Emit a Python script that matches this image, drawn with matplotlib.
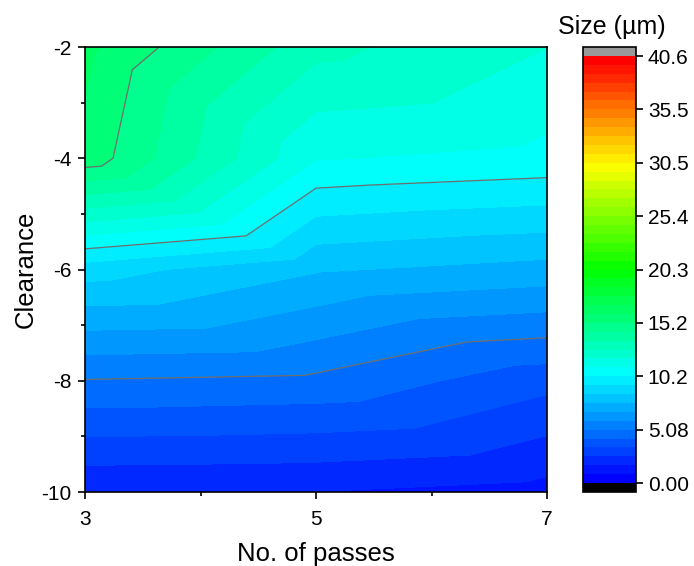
import numpy as np
import matplotlib
matplotlib.use("Agg")
import matplotlib.pyplot as plt
import matplotlib.tri as mtri
from matplotlib.colors import ListedColormap, LinearSegmentedColormap, BoundaryNorm

plt.rcParams['font.family'] = ['Liberation Sans', 'DejaVu Sans']
plt.rcParams['axes.unicode_minus'] = False

# grid of measured points
passes = [3, 5, 7]
clearance = [-10, -8, -6, -4, -2]
# particle size (um); rows follow clearance, columns follow passes
size = [
    [1.75, 1.68, 1.37],
    [5.03, 4.88, 3.67],
    [8.86, 7.70, 7.30],
    [15.80, 11.05, 10.75],
    [16.30, 12.95, 11.85],
]

zmin, zmax, nlev = 0.0, 40.6, 48
line_levels = [5.075, 10.15, 15.225]
cbar_ticks = [0.0, 5.075, 10.15, 15.225, 20.3, 25.375, 30.45, 35.525, 40.6]
cbar_labels = ["0.00", "5.08", "10.2", "15.2", "20.3", "25.4", "30.5", "35.5", "40.6"]

# triangulate the grid, diagonals from upper-left to lower-right
X, Y = np.meshgrid(passes, clearance)
Z = np.array(size)
nx, ny = len(passes), len(clearance)
triangles = []
for i in range(ny - 1):
    for j in range(nx - 1):
        bl = i * nx + j
        br = bl + 1
        tl = bl + nx
        tr = tl + 1
        triangles.append([bl, br, tl])
        triangles.append([br, tr, tl])
tri = mtri.Triangulation(X.ravel(), Y.ravel(), triangles)

# Origin-like rainbow, 48 discrete bands
rainbow = LinearSegmentedColormap.from_list(
    "rb", ["#0000ff", "#00ffff", "#00ff00", "#ffff00", "#ff0000"])
cmap = ListedColormap(rainbow(np.linspace(0, 1, nlev)))
cmap.set_under("black")
cmap.set_over("#999999")
levels = np.linspace(zmin, zmax, nlev + 1)
norm = BoundaryNorm(levels, nlev)

fig = plt.figure(figsize=(6.94, 5.66), dpi=100)
ax = fig.add_axes([0.1225, 0.1307, 0.6657, 0.7862])
cf = ax.tricontourf(tri, Z.ravel(), levels=levels, cmap=cmap, norm=norm, extend="both")
ax.tricontour(tri, Z.ravel(), levels=line_levels, colors="#6e6e6e", linewidths=0.9)

ax.set_xlim(3, 7)
ax.set_ylim(-10, -2)
ax.set_xticks([3, 5, 7])
ax.set_xticks([4, 6], minor=True)
ax.set_yticks([-10, -8, -6, -4, -2])
ax.set_yticks([-9, -7, -5, -3], minor=True)
ax.tick_params(which="both", direction="out", labelsize=15, width=1.2)
ax.tick_params(which="major", length=5)
ax.tick_params(which="minor", length=3)
ax.tick_params(axis="x", pad=8)
ax.tick_params(axis="y", pad=5)
ax.set_xlabel("No. of passes", fontsize=18.5, labelpad=9)
ax.set_ylabel("Clearance", fontsize=18.5)
ax.yaxis.set_label_coords(-0.102, 0.5)
for s in ax.spines.values():
    s.set_linewidth(1.2)

cax = fig.add_axes([0.840, 0.1307, 0.0764, 0.7862])
cb = fig.colorbar(cf, cax=cax, extendrect=True, extendfrac=0.021, ticks=cbar_ticks)
cb.ax.minorticks_off()
cb.ax.set_yticklabels(cbar_labels)
cb.ax.tick_params(direction="out", length=5, width=1.2, labelsize=15)
cb.outline.set_linewidth(1.2)
fig.text(0.882, 0.952, "Size (\u00b5m)", fontsize=18, ha="center", va="center")

fig.savefig("out.png", dpi=100)
